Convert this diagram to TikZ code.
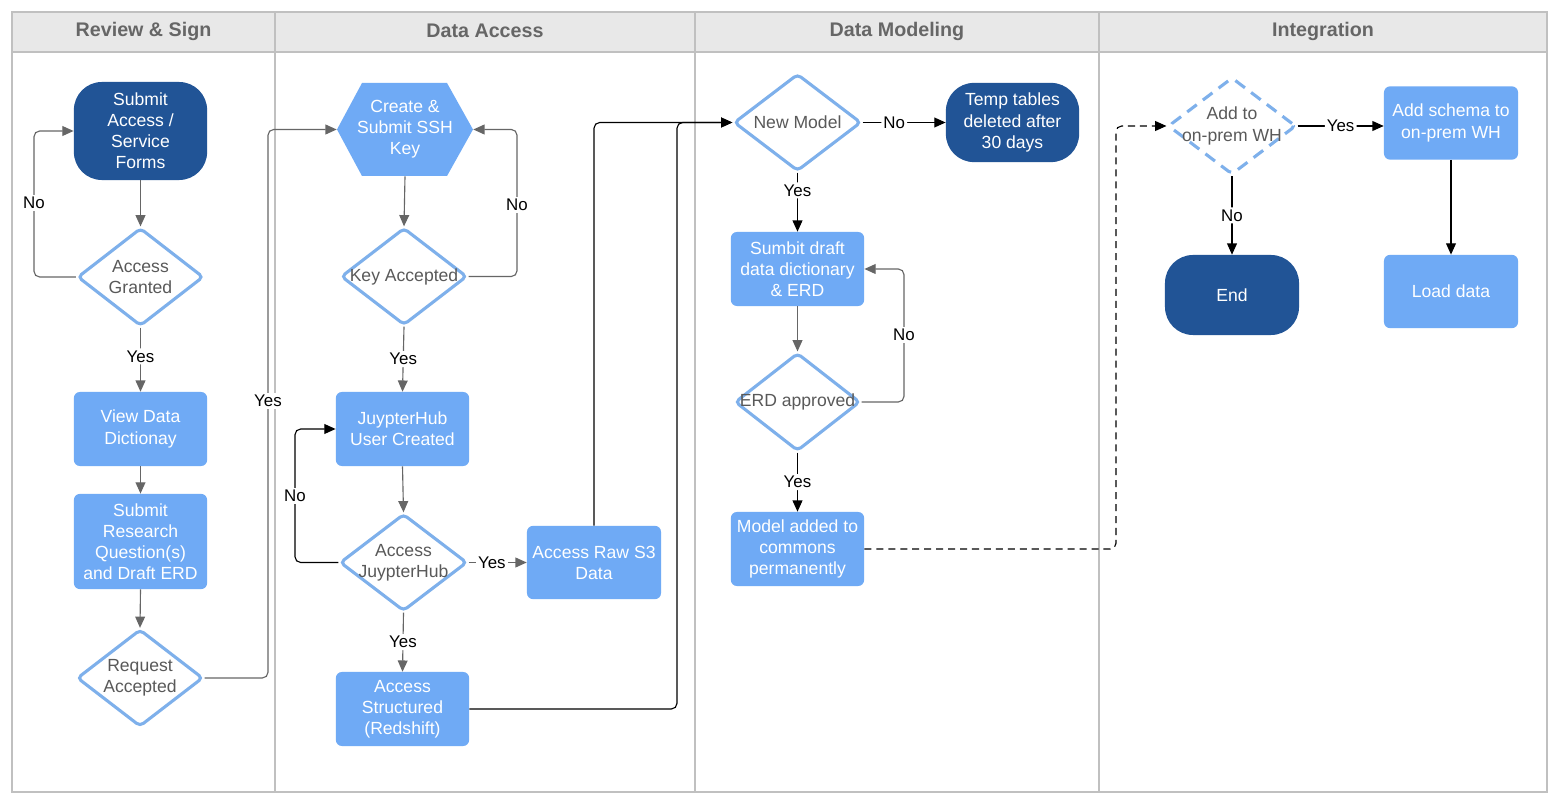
\documentclass[tikz,border=0pt]{standalone}
\usepackage{fontspec}
\setmainfont{Liberation Sans}
\usetikzlibrary{positioning,shapes.geometric,arrows.meta}

\definecolor{darkblue}{HTML}{215496}
\definecolor{lightblue}{HTML}{6FAAF5}
\definecolor{lineblue}{HTML}{7EB0EB}
\definecolor{textgrey}{HTML}{595959}
\definecolor{headgrey}{HTML}{666666}
\definecolor{arrowgrey}{HTML}{666666}
\definecolor{framegrey}{HTML}{C0C0C0}
\definecolor{headfill}{HTML}{E8E8E8}

\newcommand{\bodyfont}{\fontsize{12.5}{15}\selectfont}
\newcommand{\lblfont}{\fontsize{12}{14}\selectfont}
\newcommand{\headfont}{\fontsize{14}{16}\selectfont\bfseries}

\tikzset{
  proc/.style={rectangle, rounded corners=0.15cm, fill=lightblue, text=white, align=center,
    inner sep=0pt, minimum width=3.33cm, minimum height=1.85cm, font=\bodyfont},
  term/.style={proc, fill=darkblue, rounded corners=0.7cm},
  dec/.style={diamond, draw=lineblue, line width=2.2pt, fill=white, rounded corners=3pt,
    inner sep=0pt, minimum width=3.15cm, minimum height=2.45cm},
  dectext/.style={text=textgrey, align=center, font=\bodyfont},
  lbl/.style={fill=white, inner sep=1.5pt, font=\lblfont, text=black},
  head/.style={text=headgrey, font=\headfont},
  lane/.style={draw=framegrey, line width=1.4pt},
  garrow/.style={draw=arrowgrey, line width=0.8pt, rounded corners=4pt,
    -{Triangle[length=8pt,width=7pt]}, arrowgrey},
  barrow/.style={draw=black, line width=0.8pt, rounded corners=4pt,
    -{Triangle[length=8pt,width=7pt]}, black},
  darrow/.style={barrow, dash pattern=on 5pt off 3.5pt}
}

\begin{document}
\begin{tikzpicture}[x=0.025cm, y=-0.025cm]
    \useasboundingbox[fill=white] (0,0) rectangle (1560,806);

    % Swimlanes
    \draw[lane, fill=headfill] (12,12) rectangle (1547,52);
    \draw[lane] (12,12) rectangle (1547,792);
    \foreach \x in {275,695,1099} {
        \draw[lane] (\x,12) -- (\x,792);
    }
    \node[head] at (143.5,31) {Review \& Sign};
    \node[head] at (485,31) {Data Access};
    \node[head] at (897,31) {Data Modeling};
    \node[head] at (1323,31) {Integration};

    % Review & Sign
    \node[term, minimum height=2.45cm] (sub) at (140.5,131) {Submit\\Access /\\Service\\Forms};
    \node[dec, label={[dectext]center:Access\\Granted}] (ag) at (140.5,277) {};
    \node[proc] (vdd) at (140.5,429) {View Data\\Dictionay};
    \node[proc, minimum height=2.38cm] (srq) at (140.5,541.5) {Submit\\Research\\Question(s)\\and Draft ERD};
    \node[dec, minimum height=2.43cm, label={[dectext]center:Request\\Accepted}] (ra) at (140,678) {};

    % Data Access
    \fill[lightblue] (337,129.5) -- (362,83) -- (447,83) -- (473,129.5) -- (447,176) -- (362,176) -- cycle;
    \node[proc, fill=none, minimum width=3.4cm, minimum height=2.33cm] (ssh) at (405,129.5) {Create \&\\Submit SSH\\Key};
    \node[dec, minimum height=2.43cm, label={[dectext]center:Key Accepted}] (ka) at (404,276.5) {};
    \node[proc] (juc) at (402.5,429) {JuypterHub\\User Created};
    \node[dec, minimum width=3.18cm, minimum height=2.43cm, label={[dectext]center:Access\\JuypterHub}] (aj) at (403.5,562.5) {};
    \node[proc, minimum width=3.35cm, minimum height=1.83cm] (raw) at (594,562.5) {Access Raw S3\\Data};
    \node[proc] (acs) at (402.5,709) {Access\\Structured\\(Redshift)};

    % Data Modeling
    \node[dec, minimum width=3.18cm, minimum height=2.43cm, label={[dectext]center:New Model}] (nm) at (797.5,122.5) {};
    \node[term, minimum height=1.98cm] (tmp) at (1012.5,122.5) {Temp tables\\deleted after\\30 days};
    \node[proc] (sdd) at (797.5,269) {Sumbit draft\\data dictionary\\\& ERD};
    \node[dec, minimum width=3.13cm, label={[dectext]center:ERD approved}] (erd) at (797.5,402) {};
    \node[proc] (mac) at (797.5,549) {Model added to\\commons\\permanently};

    % Integration
    \node[dec, dash pattern=on 8.5pt off 5.5pt, minimum width=3.2cm, minimum height=2.43cm,
        label={[dectext]center:Add to\\on-prem WH}] (wh) at (1232,126) {};
    \node[proc, minimum width=3.35cm, minimum height=1.83cm] (asc) at (1451,123) {Add schema to\\on-prem WH};
    \node[proc, minimum width=3.35cm, minimum height=1.83cm] (load) at (1451,291.5) {Load data};
    \node[term, minimum width=3.35cm, minimum height=2cm] (endn) at (1232,295) {End};

    % Connectors, review lane
    \draw[garrow] (sub.south) -- (ag.north);
    \draw[garrow] (ag.west) -| (34,203) node[lbl] {No} |- (sub.west);
    \draw[garrow] (ag.south) -- node[lbl, pos=0.45] {Yes} (vdd.north);
    \draw[garrow] (vdd.south) -- (srq.north);
    \draw[garrow] (srq.south) -- (ra.north);
    \draw[garrow] (ra.east) -| (268,401) node[lbl] {Yes} |- (ssh.west);

    % Connectors, access lane
    \draw[garrow] (ssh.south) -- (ka.north);
    \draw[garrow] (ka.east) -| (517,205) node[lbl] {No} |- (ssh.east);
    \draw[garrow] (ka.south) -- node[lbl] {Yes} (juc.north);
    \draw[garrow] (juc.south) -- (aj.north);
    \draw[barrow] (aj.west) -| (295,496) node[lbl] {No} |- (juc.west);
    \draw[garrow] (aj.east) -- node[lbl, pos=0.4] {Yes} (raw.west);
    \draw[garrow] (aj.south) -- node[lbl] {Yes} (acs.north);
    \draw[barrow] (raw.north) |- (nm.west);
    \draw[barrow] (acs.east) -| (677,400) |- (nm.west);

    % Connectors, modeling lane
    \draw[barrow] (nm.east) -- node[lbl, pos=0.38] {No} (tmp.west);
    \draw[barrow] (nm.south) -- node[lbl, pos=0.3] {Yes} (sdd.north);
    \draw[garrow] (sdd.south) -- (erd.north);
    \draw[garrow] (erd.east) -| (904,335) node[lbl] {No} |- (sdd.east);
    \draw[barrow] (erd.south) -- node[lbl] {Yes} (mac.north);
    \draw[darrow] (mac.east) -| (1116,300) |- (wh.west);

    % Connectors, integration lane
    \draw[barrow] (wh.east) -- node[lbl] {Yes} (wh.east -| asc.west);
    \draw[barrow] (wh.south) -- node[lbl] {No} (endn.north);
    \draw[barrow] (asc.south) -- (load.north);
\end{tikzpicture}
\end{document}
